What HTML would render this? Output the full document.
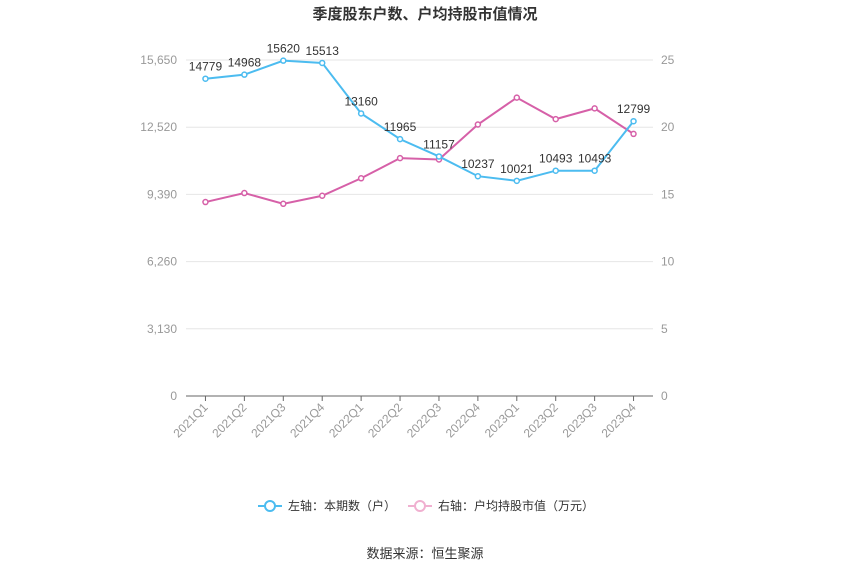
<!DOCTYPE html>
<html><head><meta charset="utf-8"><style>
body{margin:0;background:#fff;}
svg{display:block;font-family:"Liberation Sans","Noto Sans CJK SC",sans-serif;}
</style></head><body>
<svg id="chart" width="850" height="575">
<text x="425" y="19" text-anchor="middle" font-size="15" font-weight="bold" fill="#333">季度股东户数、户均持股市值情况</text>
<g id="grid"></g><g id="axes"></g><g id="series"></g>
<g>
<g>
<line x1="258" y1="506" x2="282" y2="506" stroke="#4cbcf0" stroke-width="2"/>
<circle cx="270" cy="506" r="5" fill="#fff" stroke="#4cbcf0" stroke-width="2"/>
<text x="288" y="510" font-size="12" fill="#333">左轴：本期数（户）</text></g>
<g>
<line x1="408" y1="506" x2="432" y2="506" stroke="#f0b0d0" stroke-width="2"/>
<circle cx="420" cy="506" r="5" fill="#fff" stroke="#f0b0d0" stroke-width="2"/>
<text x="438" y="510" font-size="12" fill="#333">右轴：户均持股市值（万元）</text></g>
</g>
<text x="425" y="558" text-anchor="middle" font-size="13" fill="#333">数据来源：恒生聚源</text>
</svg>
<script>
const categories=["2021Q1","2021Q2","2021Q3","2021Q4","2022Q1","2022Q2","2022Q3","2022Q4","2023Q1","2023Q2","2023Q3","2023Q4"];
const holders=[14779,14968,15620,15513,13160,11965,11157,10237,10021,10493,10493,12799];
const avgValue=[14.43,15.1,14.3,14.9,16.2,17.7,17.6,20.2,22.2,20.6,21.4,19.5];
const leftTicks=[0,3130,6260,9390,12520,15650];
const rightTicks=[0,5,10,15,20,25];
const NS="http://www.w3.org/2000/svg";
const X0=186,X1=653,Y0=396,Y1=60;
const bw=(X1-X0)/categories.length;
const x=i=>X0+bw*(i+0.5);
const yL=v=>Y0-v/15650*(Y0-Y1);
const yR=v=>Y0-v/25*(Y0-Y1);
function mk(tag,attrs,parent,text){const e=document.createElementNS(NS,tag);for(const k in attrs)e.setAttribute(k,attrs[k]);if(text!==undefined)e.textContent=text;parent.appendChild(e);return e;}
const grid=document.getElementById('grid'),axes=document.getElementById('axes'),ser=document.getElementById('series');
leftTicks.forEach((t,i)=>{
 const y=yL(t);
 if(i>0){const l=mk('line',{x1:X0,x2:X1,y1:y,y2:y,stroke:'#e6e6e6'},grid);
 
 }
 const tx=mk('text',{x:177,y:y+4,'text-anchor':'end','font-size':12,fill:'#999'},axes,t.toLocaleString('en-US'));
 
 
});
rightTicks.forEach(t=>{
 const tx=mk('text',{x:661,y:yR(t)+4,'font-size':12,fill:'#999'},axes,String(t));
 
 
});
const ax=mk('line',{x1:X0,x2:X1,y1:Y0,y2:Y0,stroke:'#666'},axes);


categories.forEach((c,i)=>{
 mk('line',{x1:x(i),x2:x(i),y1:Y0,y2:Y0+5,stroke:'#666'},axes);
 const tx=mk('text',{x:x(i)+3,y:Y0+12,'text-anchor':'end','font-size':12,fill:'#999',transform:`rotate(-45 ${x(i)+3} ${Y0+12})`},axes,c);
 
 
});
function line(vals,yf,color,name){
 const p=mk('polyline',{points:vals.map((v,i)=>x(i)+','+yf(v)).join(' '),fill:'none',stroke:color,'stroke-width':2},ser);
 
 
 vals.forEach((v,i)=>{
  const c=mk('circle',{cx:x(i),cy:yf(v),r:2.5,fill:'#fff',stroke:color,'stroke-width':1.5},ser);
  
  
 });
}
line(avgValue,yR,'#d660a8','avg-value');
line(holders,yL,'#4cbcf0','holders');
holders.forEach((v,i)=>{
 const t=mk('text',{x:x(i),y:yL(v)-8,'text-anchor':'middle','font-size':12,fill:'#333'},ser,String(v));
 
 
});
</script>
</body></html>
